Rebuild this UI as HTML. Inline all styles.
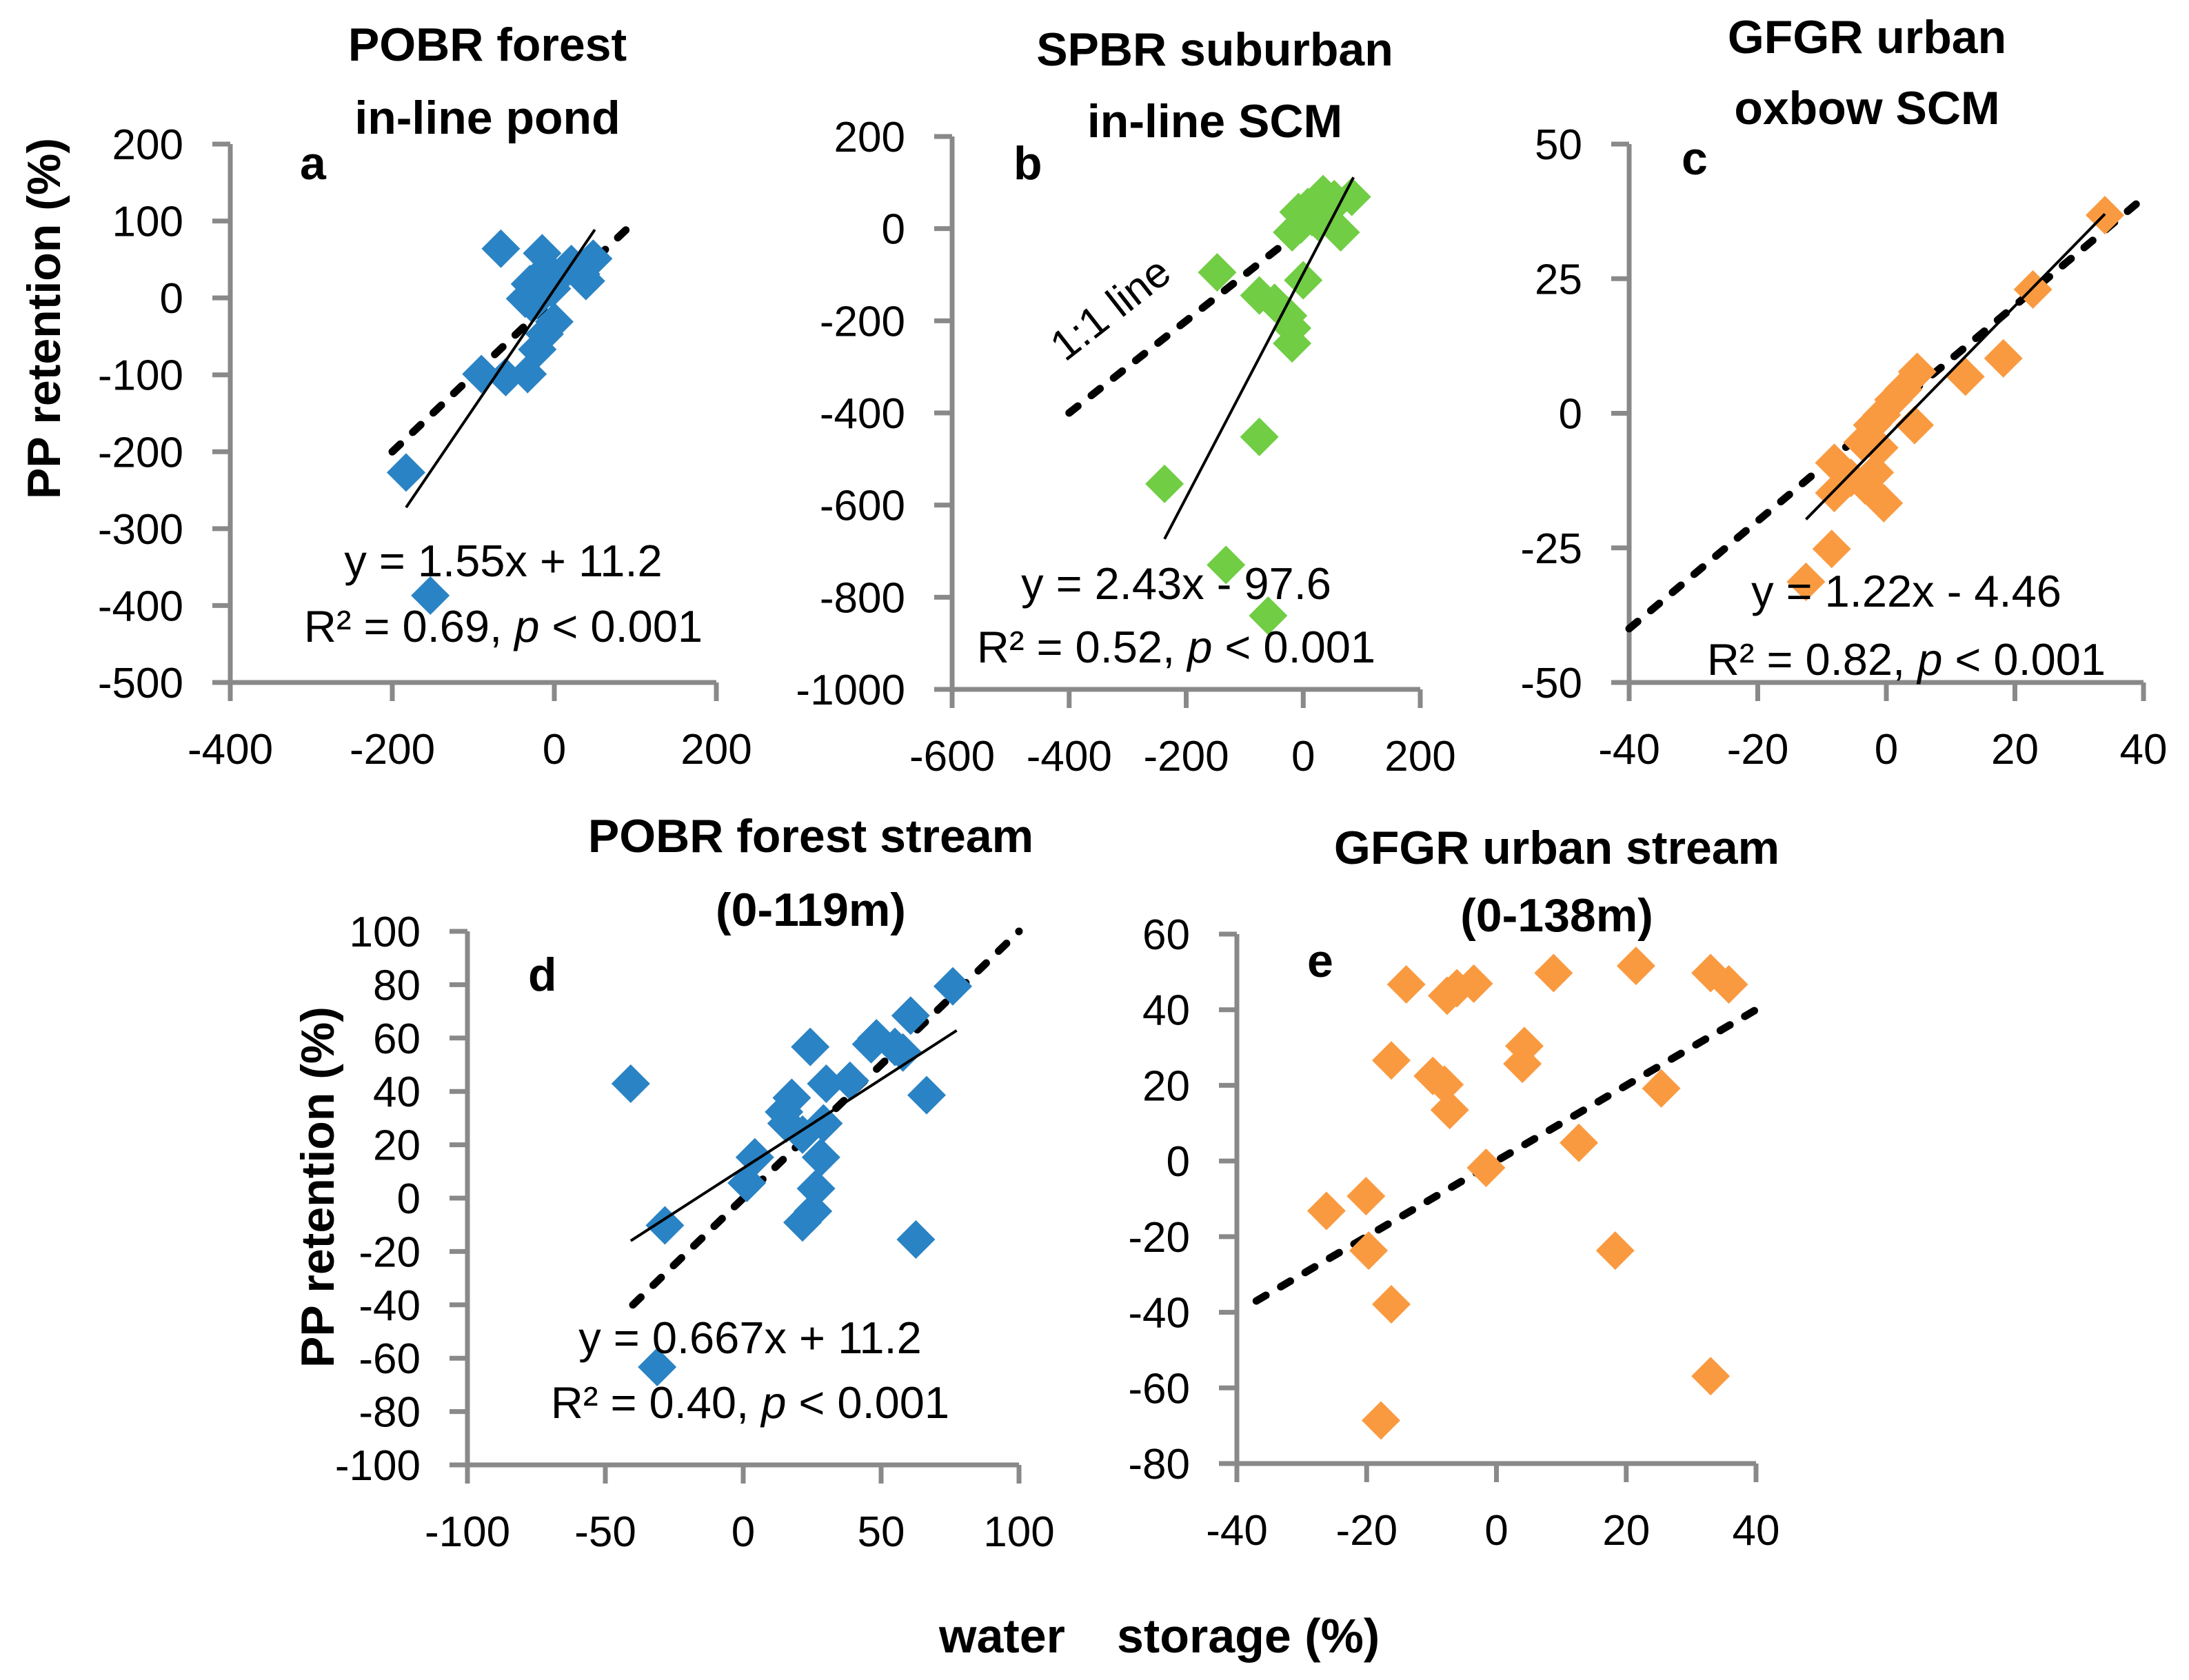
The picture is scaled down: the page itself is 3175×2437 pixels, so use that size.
<!DOCTYPE html>
<html><head><meta charset="utf-8"><style>
html,body{margin:0;padding:0;background:#fff;}
svg{display:block;font-family:"Liberation Sans",sans-serif;}
</style></head><body>
<svg id="fig" width="3175" height="2437" viewBox="0 0 3175 2437" xmlns="http://www.w3.org/2000/svg">
<rect width="3175" height="2437" fill="#fff"/>
<g id="layer"></g>
<text x="1362" y="2397" font-size="70" font-weight="bold">water</text>
<text x="1620" y="2397" font-size="70" font-weight="bold">storage (%)</text>
</svg>
<script>
// ---- data ----
const aX = [-66,-183,-153,-90,-60,-33,-21,-12,0,-15,-9,-30,-36,-27,9,21,33,39,48,-3,-27];
const aY = [64,-227,-387,-99,-103,-99,-67,-47,-31,58,38,18,-1,-8,31,44,31,22,51,12,5];
const bX = [-237,-132,-60,-75,-147,-75,-49,0,-26,-19,-19,-19,-8,8,34,53,83,64,26,15,-4,45];
const bY = [-554,-730,-840,-452,-95,-145,-161,-112,-189,-216,-249,-8,36,47,75,64,69,-8,14,25,9,42];
const cX = [34,22.8,18.2,12.3,4.8,4.4,2.6,1.1,-0.7,-2.2,-3.7,-1.1,-1.8,-3.3,-0.4,-8.1,-8.1,-8.5,-12.5,-5.5];
const cY = [36.8,23,10.2,6.8,7.7,-2.2,4.4,2.5,-0.3,-2.2,-5.4,-6.4,-11,-13.4,-16.7,-9.2,-14.8,-25.2,-31.3,-12];
const dX = [-40.8,-28.4,-31.2,4.2,1.3,24.3,17.6,14.8,15.7,21.5,29.1,28.2,26.4,25.3,21.5,30.1,38.7,48.3,46.4,55,57.9,60.7,66.5,62.6,76];
const dY = [42.9,-10.2,-63.3,15.3,5.7,56.7,37.6,32.3,28,23.8,28,15.3,3.6,-4.9,-9.1,42.9,44,59.9,57.7,56.7,54.6,68.4,38.6,-15.5,79.4];
const eX = [-26.2,-20.1,-19.7,-16.2,-17.8,-16.2,-13.9,-9.8,-8,-7.2,-7.6,-6.1,-3.5,-1.6,4,4.3,8.8,12.7,18.3,21.5,25.4,33,35.8,33];
const eY = [-13.2,-9.3,-23.7,-37.9,-68.6,26.6,46.7,22.5,20.2,13.5,43.7,45.7,46.9,-1.8,25.7,30.4,49.7,4.8,-23.7,51.6,19.2,49.7,46.7,-56.9];
const aTicksX = [-400,-200,0,200], aTicksY = [200,100,0,-100,-200,-300,-400,-500];
const bTicksX = [-600,-400,-200,0,200], bTicksY = [200,0,-200,-400,-600,-800,-1000];
const cTicksX = [-40,-20,0,20,40], cTicksY = [50,25,0,-25,-50];
const dTicksX = [-100,-50,0,50,100], dTicksY = [100,80,60,40,20,0,-20,-40,-60,-80,-100];
const eTicksX = [-40,-20,0,20,40], eTicksY = [60,40,20,0,-20,-40,-60,-80];
const aFit = [1.55, 11.2], bFit = [2.43, -97.6], cFit = [1.22, -4.46], dFit = [0.667, 11.2];
const aFitRange = [-183, 50], bFitRange = [-237, 86], cFitRange = [-12.5, 34], dFitRange = [-40.8, 77.4];
const a11 = [-200, 100], b11 = [-400, -40], c11 = [-40, 40], d11 = [-40, 100], e11 = [-37, 40];

const NS = "http://www.w3.org/2000/svg";
const layer = document.getElementById('layer');
function mk(tag, attrs, parent){
  const el = document.createElementNS(NS, tag);
  for (const k in attrs) el.setAttribute(k, attrs[k]);
  (parent||layer).appendChild(el);
  return el;
}
function panel(p){
  const g = mk('g', {});
  
  
  const sx = v => p.px0 + (v - p.xmin) / (p.xmax - p.xmin) * (p.px1 - p.px0);
  const sy = v => p.py0 + (p.ymax - v) / (p.ymax - p.ymin) * (p.py1 - p.py0);
  const ya = mk('line', {x1:p.px0, y1:p.py0, x2:p.px0, y2:p.py1+27, stroke:'#898989', 'stroke-width':7}, g);
  
  
  const xa = mk('line', {x1:p.px0-26, y1:p.py1, x2:p.px1, y2:p.py1, stroke:'#898989', 'stroke-width':7}, g);
  
  
  p.ticksY.forEach(v => {
    const y = sy(v);
    mk('line', {x1:p.px0-26, y1:y, x2:p.px0, y2:y, stroke:'#898989', 'stroke-width':7}, g);
    const t = mk('text', {x:p.px0-68, y:y+22, 'font-size':62, 'text-anchor':'end'}, g);
    
    
    t.textContent = String(v);
  });
  p.ticksX.forEach(v => {
    const x = sx(v);
    mk('line', {x1:x, y1:p.py1, x2:x, y2:p.py1+27, stroke:'#898989', 'stroke-width':7}, g);
    const t = mk('text', {x:x, y:p.py1+118, 'font-size':62, 'text-anchor':'middle'}, g);
    
    
    t.textContent = String(v);
  });
  const l11 = mk('line', {x1:sx(p.one[0]), y1:sy(p.one[0]), x2:sx(p.one[1]), y2:sy(p.one[1]), stroke:'#000', 'stroke-width':11, 'stroke-dasharray':'16 25', 'stroke-linecap':'round'}, g);
  
  
  p.xs.forEach((xv, i) => {
    const cx = sx(xv), cy = sy(p.ys[i]), r = 28;
    const d = mk('path', {d:`M${cx} ${cy-r}L${cx+r} ${cy}L${cx} ${cy+r}L${cx-r} ${cy}Z`, fill:p.color}, g);
    
    
  });
  if (p.fit){
    const f = v => p.fit[0]*v + p.fit[1];
    const fl = mk('line', {x1:sx(p.fitR[0]), y1:sy(f(p.fitR[0])), x2:sx(p.fitR[1]), y2:sy(f(p.fitR[1])), stroke:'#000', 'stroke-width':4}, g);
    
    
  }
  p.title.forEach((s, i) => {
    const t = mk('text', {x:p.tx, y:p.ty[i], 'font-size':68, 'font-weight':'bold', 'text-anchor':'middle'}, g);
    
    
    t.textContent = s;
  });
  const lb = mk('text', {x:p.lx, y:p.ly, 'font-size':68, 'font-weight':'bold'}, g);
  
  
  lb.textContent = p.id;
  if (p.eq){
    const e1 = mk('text', {x:p.ex, y:p.ey[0], 'font-size':65, 'text-anchor':'middle'}, g);
    
    
    e1.textContent = p.eq[0];
    const e2 = mk('text', {x:p.ex, y:p.ey[1], 'font-size':65, 'text-anchor':'middle'}, g);
    
    
    e2.innerHTML = p.eq[1] + '<tspan font-style="italic">p</tspan> &lt; 0.001';
  }
}
panel({id:'a', xs:aX, ys:aY, color:'#2a83c4', xmin:-400, xmax:200, ymin:-500, ymax:200, px0:334, px1:1039, py0:209, py1:990,
  ticksX:aTicksX, ticksY:aTicksY, one:a11, fit:aFit, fitR:aFitRange, title:['POBR forest','in-line pond'], tx:707, ty:[88,194],
  lx:435, ly:260, eq:['y = 1.55x + 11.2','R² = 0.69, '], ex:730, ey:[836,931]});
panel({id:'b', xs:bX, ys:bY, color:'#70cd44', xmin:-600, xmax:200, ymin:-1000, ymax:200, px0:1381, px1:2060, py0:198, py1:1000,
  ticksX:bTicksX, ticksY:bTicksY, one:b11, fit:bFit, fitR:bFitRange, title:['SPBR suburban','in-line SCM'], tx:1762, ty:[95,199],
  lx:1470, ly:260, eq:['y = 2.43x - 97.6','R² = 0.52, '], ex:1706, ey:[869,961]});
panel({id:'c', xs:cX, ys:cY, color:'#fa9a40', xmin:-40, xmax:40, ymin:-50, ymax:50, px0:2363, px1:3109, py0:209, py1:990,
  ticksX:cTicksX, ticksY:cTicksY, one:c11, fit:cFit, fitR:cFitRange, title:['GFGR urban','oxbow SCM'], tx:2708, ty:[77,180],
  lx:2439, ly:253, eq:['y = 1.22x - 4.46','R² = 0.82, '], ex:2765, ey:[880,979]});
panel({id:'d', xs:dX, ys:dY, color:'#2a83c4', xmin:-100, xmax:100, ymin:-100, ymax:100, px0:678, px1:1478, py0:1351, py1:2125,
  ticksX:dTicksX, ticksY:dTicksY, one:d11, fit:dFit, fitR:dFitRange, title:['POBR forest stream','(0-119m)'], tx:1176, ty:[1236,1343],
  lx:766, ly:1437, eq:['y = 0.667x + 11.2','R² = 0.40, '], ex:1088, ey:[1963,2057]});
panel({id:'e', xs:eX, ys:eY, color:'#fa9a40', xmin:-40, xmax:40, ymin:-80, ymax:60, px0:1794, px1:2547, py0:1355, py1:2123,
  ticksX:eTicksX, ticksY:eTicksY, one:e11, fit:null, title:['GFGR urban stream','(0-138m)'], tx:2258, ty:[1253,1351],
  lx:1896, ly:1417, eq:null});
[[63,462],[460,1722]].forEach(([x,y]) => {
  const t = mk('text', {x:x, y:y, 'font-size':68, 'font-weight':'bold', 'text-anchor':'middle', transform:`rotate(-90 ${x} ${y})`, dy:24});
  
  
  t.textContent = 'PP retention (%)';
});
const ann = mk('text', {x:1610, y:447, 'font-size':62, 'text-anchor':'middle', dy:22, transform:'rotate(-38 1610 447)'});


ann.textContent = '1:1 line';
</script>
</body></html>
